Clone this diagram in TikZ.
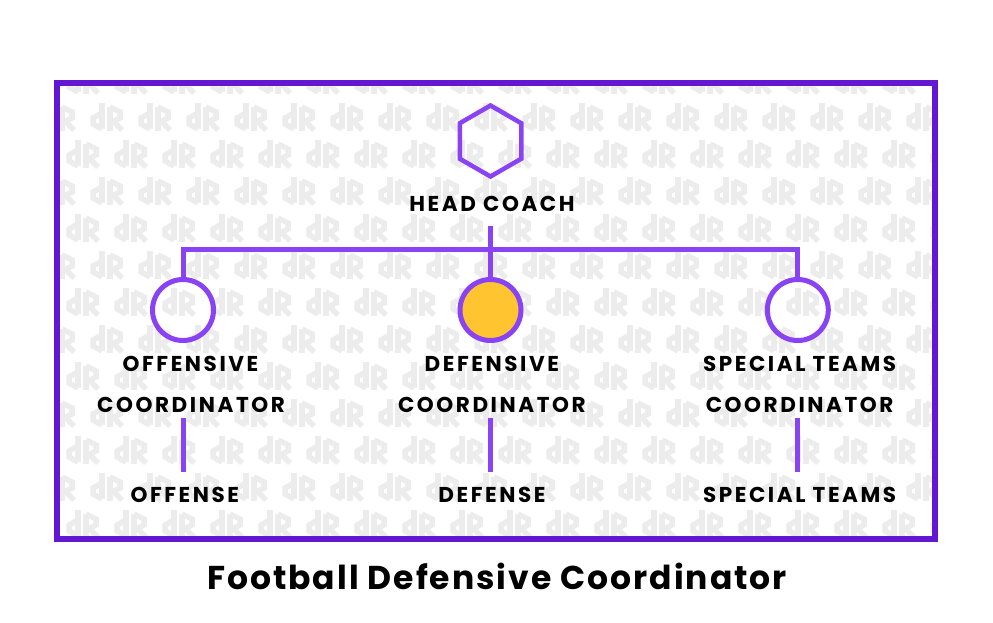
\documentclass[tikz,border=0pt]{standalone}
\usepackage{fontspec}
\setmainfont{Poppins}
\newfontfamily\labfont{Poppins}[LetterSpace=12]
\newfontfamily\titfont{Poppins}[LetterSpace=6]
\usetikzlibrary{shapes.geometric}
\definecolor{frameC}{HTML}{6417D3}
\definecolor{lineC}{HTML}{8A42F5}
\definecolor{goldC}{HTML}{FFC42F}
\definecolor{patC}{HTML}{ECECEC}
\tikzset{
  lab/.style={font=\labfont\bfseries\fontsize{21.5}{26}\selectfont, anchor=base, inner sep=0pt, text=black},
  titlab/.style={font=\titfont\bfseries\fontsize{33}{38}\selectfont, anchor=base, inner sep=0pt, text=black},
  link/.style={draw=lineC, line width=5pt},
  framebox/.style={draw=frameC, line width=6pt},
  rolecircle/.style={circle, draw=lineC, line width=5pt, minimum size=61pt, inner sep=0pt, outer sep=0pt},
  hexnode/.style={regular polygon, regular polygon sides=6, shape border rotate=30, draw=lineC, line width=4.5pt, minimum size=71pt, inner sep=0pt, outer sep=0pt},
  motif/.style={draw=patC, line width=5.5pt}
}
\begin{document}
\begin{tikzpicture}[x=1pt,y=-1pt]
\useasboundingbox (0,0) rectangle (993,622);
% background pattern
\begin{scope}
\clip (59.5,86) rectangle (931.5,535.5);
\foreach \j in {0,...,13}{
  \foreach \i in {0,...,20}{
    \pgfmathsetmacro{\px}{20+48*\i+24*mod(\j,2)}
    \pgfmathsetmacro{\py}{80+37*\j}
    \begin{scope}[shift={(\px,\py)}]
      \path[motif] (10,-14) -- (10,12);
      \path[motif] (10,-4) -- (1,1) -- (1,7) -- (10,12);
      \path[motif] (18,-10) -- (18,14);
      \path[motif] (18,-10) -- (28,-5) -- (28,1) -- (18,6);
      \path[motif] (22,5) -- (30,13);
    \end{scope}
  }
}
\end{scope}
% frame
\draw[framebox] (56.5,83) rectangle (934.5,538.5);
% head coach
\node[hexnode] (hex) at (490.5,141) {};
\node[lab] (hc) at (492,211) {HEAD COACH};
\coordinate (hcb) at (490.5,226);
\coordinate (bar) at (490.5,249);
% circles
\node[rolecircle] (c1) at (183,310) {};
\node[rolecircle, fill=goldC] (c2) at (490.5,310) {};
\node[rolecircle] (c3) at (797.8,310) {};
\draw[link] (hcb) -- (c2.north);
\draw[link] (c1.north) |- (bar) -| (c3.north);
% labels
\node[lab] (l1a) at (190.5,371.7) {OFFENSIVE};
\node[lab] (l1b) at (191,412.7) {COORDINATOR};
\node[lab] (l2a) at (491.8,371.7) {DEFENSIVE};
\node[lab] (l2b) at (491.8,412.7) {COORDINATOR};
\node[lab] (l3a) at (799.6,371.7) {SPECIAL TEAMS};
\node[lab] (l3b) at (799.6,412.7) {COORDINATOR};
\coordinate (v1t) at (183.3,418);
\coordinate (v1b) at (183.3,472);
\coordinate (v2t) at (490.3,418);
\coordinate (v2b) at (490.3,472);
\coordinate (v3t) at (797.7,418);
\coordinate (v3b) at (797.7,472);
\draw[link] (v1t) -- (v1b);
\draw[link] (v2t) -- (v2b);
\draw[link] (v3t) -- (v3b);
\node[lab] (o1) at (184.8,502) {OFFENSE};
\node[lab] (o2) at (492,502) {DEFENSE};
\node[lab] (o3) at (799.6,502) {SPECIAL TEAMS};
% title
\node[titlab] (title) at (497,589) {Football Defensive Coordinator};
\end{tikzpicture}
\end{document}
